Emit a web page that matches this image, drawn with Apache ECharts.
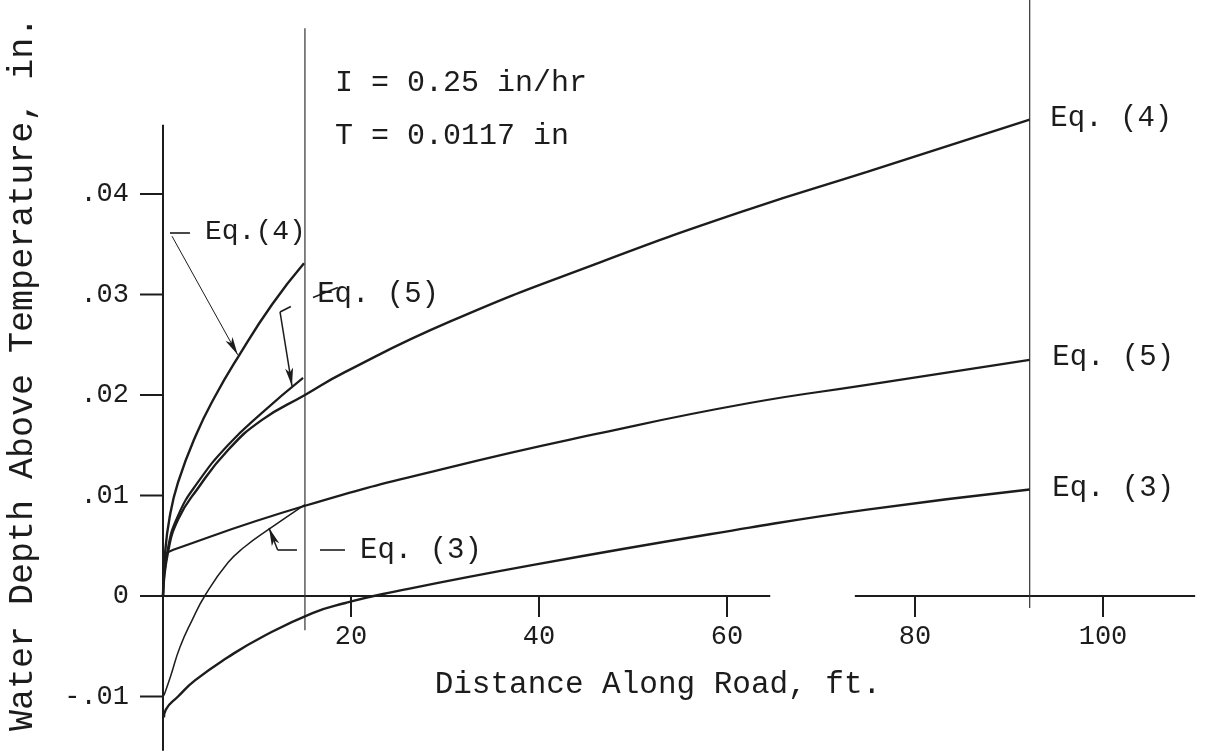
<!DOCTYPE html>
<html>
<head>
<meta charset="utf-8">
<script src="https://cdn.jsdelivr.net/npm/echarts@6/dist/echarts.min.js"></script>
<style>
html,body{margin:0;padding:0;background:#fff;}
#chart{width:1205px;height:751px;}
</style>
</head>
<body>
<div id="chart"></div>
<script>
// ---- data (x: distance along road, ft ; y: water depth above T, in) ----
const xTicks = [20, 40, 60, 80, 100];
const xTickLabels = ['20', '40', '60', '80', '100'];
const yTicks = [-0.01, 0, 0.01, 0.02, 0.03, 0.04];
const yTickLabels = ['-.01', '0', '.01', '.02', '.03', '.04'];

// short curves (L = 15 ft)
const eq4Short = [[0,0],[0.2,0.0040],[0.7,0.0078],[1.6,0.0113],[3.5,0.0160],[5.5,0.0198],[8,0.0238],[11.6,0.0290],[15,0.0331]];
const eq5Short = [[0,0],[0.5,0.0046],[1.6,0.0080],[3.7,0.0113],[6.9,0.0150],[10.5,0.0182],[14.9,0.0217]];
const eq3Short = [[0.1,-0.0099],[0.8,-0.0080],[1.8,-0.0051],[3.1,-0.0024],[4.5,0.0001],[6.9,0.0033],[8.7,0.0049],[11.2,0.0066],[15.1,0.0091]];

// long curves (L = 92 ft)
const eq4Long = [[0,0],[0.5,0.0042],[1.6,0.0076],[3.7,0.0107],[6.9,0.0145],[10.5,0.0175],[15.1,0.0200],[19.4,0.0223],[30.5,0.0273],[46.5,0.0332],[62.4,0.0385],[74.9,0.0422],[92.2,0.0474]];
const eq5Long = [[0,0.0040],[1.1,0.0046],[15.2,0.0090],[30.5,0.0128],[46.5,0.0162],[62.4,0.0192],[74.9,0.0210],[92.2,0.0235]];
const eq3Long = [[0.1,-0.0121],[0.3,-0.0113],[1.6,-0.0100],[3.4,-0.0084],[6.9,-0.0061],[10.5,-0.0041],[15.9,-0.0017],[19.4,-0.0007],[23.4,0.0002],[39.4,0.0031],[62.4,0.0068],[74.9,0.0086],[92.2,0.0106]];

// frame lines
const yAxisLine = [[0,-0.0154],[0,0.0469]];
const xAxisLeft = [[-1.4,0],[64.6,0]];
const xAxisRight = [[73.6,0],[109.8,0]];
const refLineShort = [[15.1,-0.0034],[15.1,0.0565]];
const refLineLong = [[92.2,-0.0012],[92.2,0.0593]];

// ---- chart ----
const FONT = '"Liberation Mono", "DejaVu Sans Mono", monospace';
const INK = '#1c1c1c';

const annotations = [
  {text:'I = 0.25 in/hr', x:18.3, y:0.0510, size:30},
  {text:'T = 0.0117 in', x:18.3, y:0.0458, size:30},
  {text:'Eq.(4)', x:4.47, y:0.0363, size:28},
  {text:'Eq. (5)', x:16.4, y:0.0300, size:29},
  {text:'Eq. (3)', x:20.96, y:0.00458, size:29},
  {text:'Eq. (4)', x:94.4, y:0.0475, size:29},
  {text:'Eq. (5)', x:94.6, y:0.0237, size:29},
  {text:'Eq. (3)', x:94.6, y:0.0107, size:29},
  {text:'Distance Along Road, ft.', x:28.9, y:-0.0088, size:31},
  {text:'Water Depth Above Temperature, in.', x:-14.9, y:0.0221, size:35, rot:Math.PI/2, align:'center'}
];

const leaders = [
  [[0.74,0.0361],[2.87,0.0361],false,1.6],
  [[0.96,0.0358],[7.95,0.0240],true,1.0],
  [[15.96,0.0297],[18.6,0.0307],false,1.6],
  [[12.45,0.02826],[13.6,0.0288],false,1.6],
  [[12.45,0.02826],[13.72,0.0209],true,1.5],
  [[16.7,0.00458],[19.36,0.00458],false,1.6],
  [[12.2,0.00458],[14.25,0.00458],false,1.6],
  [[12.2,0.00458],[11.28,0.00677],true,1.5]
];

function lineSeries(name, data, width, smooth, extra) {
  return Object.assign({
    name: name, type: 'line', data: data, showSymbol: false, symbol: 'none',
    smooth: smooth ? 0.5 : false,
    lineStyle: {color: INK, width: width}, silent: true, z: 3
  }, extra || {});
}

const chart = echarts.init(document.getElementById('chart'), null, {renderer: 'canvas'});
const option = {
  animation: false,
  backgroundColor: '#ffffff',
  grid: {left: 0, right: 0, top: 0, bottom: 0, containLabel: false},
  xAxis: {type: 'value', min: -17.34, max: 110.85, show: false},
  yAxis: {type: 'value', min: -0.015423, max: 0.059303, show: false},
  series: [
    lineSeries('y axis', yAxisLine, 2, false, {
      markLine: {
        silent: true, animation: false, symbol: ['none','none'], symbolSize: [6, 18],
        label: {show: false}, emphasis: {disabled: true},
        data: leaders.map(l => [
          {coord: l[0], symbol: 'none', lineStyle: {color: INK, width: l[3], type: 'solid'}},
          {coord: l[1], symbol: l[2] ? 'arrow' : 'none', symbolSize: [6, 18], lineStyle: {color: INK, width: l[3], type: 'solid'}}
        ])
      }
    }),
    lineSeries('x axis left', xAxisLeft, 2, false),
    lineSeries('x axis right', xAxisRight, 2, false),
    lineSeries('L=15 ft', refLineShort, 1.2, false, {lineStyle: {color: '#333', width: 1.2}}),
    lineSeries('L=92 ft', refLineLong, 1.2, false, {lineStyle: {color: '#333', width: 1.2}}),
    lineSeries('Eq. (4) short', eq4Short, 2.4, true),
    lineSeries('Eq. (5) short', eq5Short, 2.2, true),
    lineSeries('Eq. (3) short', eq3Short, 1.5, true),
    lineSeries('Eq. (4) long', eq4Long, 2.4, true),
    lineSeries('Eq. (5) long', eq5Long, 2.2, true),
    lineSeries('Eq. (3) long', eq3Long, 2.4, true),
    {
      name: 'y ticks', type: 'custom', silent: true, clip: false, z: 4,
      data: yTicks.map(v => [0, v]),
      encode: {x: 0, y: 1},
      renderItem: function (params, api) {
        const p = api.coord([0, yTicks[params.dataIndex]]);
        return {type: 'group', children: [
          {type: 'line', shape: {x1: p[0] - 23, y1: p[1], x2: p[0], y2: p[1]}, style: {stroke: INK, lineWidth: 2}},
          {type: 'text', x: p[0] - 34, y: p[1], style: {text: yTickLabels[params.dataIndex], font: '27px ' + FONT, fill: INK, textAlign: 'right', textVerticalAlign: 'middle'}}
        ]};
      }
    },
    {
      name: 'x ticks', type: 'custom', silent: true, clip: false, z: 4,
      data: xTicks.map(v => [v, 0]),
      encode: {x: 0, y: 1},
      renderItem: function (params, api) {
        const p = api.coord([xTicks[params.dataIndex], 0]);
        return {type: 'group', children: [
          {type: 'line', shape: {x1: p[0], y1: p[1], x2: p[0], y2: p[1] + 21}, style: {stroke: INK, lineWidth: 2}},
          {type: 'text', x: p[0], y: p[1] + 41, style: {text: xTickLabels[params.dataIndex], font: '27px ' + FONT, fill: INK, textAlign: 'center', textVerticalAlign: 'middle'}}
        ]};
      }
    },
    {
      name: 'annotations', type: 'custom', silent: true, clip: false, z: 5,
      data: annotations.map(a => [a.x, a.y]),
      encode: {x: 0, y: 1},
      renderItem: function (params, api) {
        const a = annotations[params.dataIndex];
        const p = api.coord([a.x, a.y]);
        return {type: 'text', x: p[0], y: p[1], rotation: a.rot || 0,
          style: {text: a.text, font: a.size + 'px ' + FONT, fill: INK, textAlign: a.align || 'left', textVerticalAlign: 'middle'}};
      }
    }
  ]
};
chart.setOption(option);
</script>
</body>
</html>
